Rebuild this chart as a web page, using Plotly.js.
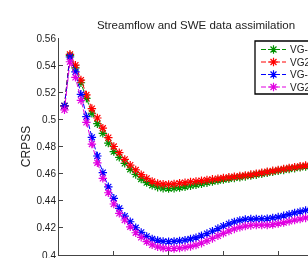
<!DOCTYPE html>
<html>
<head>
<meta charset="utf-8">
<script src="https://cdn.plot.ly/plotly-3.0.1.min.js"></script>
<style>
  html, body { margin: 0; padding: 0; background: #fff; overflow: hidden; }
  #chart { width: 380px; height: 300px; filter: blur(0.35px); }
</style>
</head>
<body>
<div id="chart"></div>
<script>
// Lead times (days) and CRPSS for the four model variants
const leadTime = Array.from({length: 48}, (_, i) => i + 1);

const seriesNames = ['VG-EnKF', 'VG2-EnKF', 'VG-PF', 'VG2-PF'];
const seriesColors = ['rgb(0,145,0)', 'rgb(255,0,0)', 'rgb(0,0,255)', 'rgb(225,0,225)'];

const vgEnkf = [0.510, 0.547, 0.538, 0.527, 0.5155, 0.5045, 0.4968, 0.4897, 0.4825, 0.4762,
  0.4720, 0.4676, 0.4632, 0.4594, 0.4560, 0.4534, 0.4514, 0.4500, 0.4492, 0.4490,
  0.4492, 0.4497, 0.4503, 0.4510, 0.4518, 0.4525, 0.4533, 0.4541, 0.4549, 0.4556,
  0.4562, 0.4568, 0.4573, 0.4579, 0.4585, 0.4592, 0.4599, 0.4606, 0.4613, 0.4620,
  0.4627, 0.4634, 0.4640, 0.4646, 0.4652, 0.4657, 0.4662, 0.4666];

const vg2Enkf = [0.510, 0.548, 0.540, 0.529, 0.518, 0.508, 0.501, 0.4935, 0.4865, 0.480,
  0.4755, 0.4705, 0.4663, 0.4627, 0.4592, 0.4565, 0.4542, 0.4528, 0.4522, 0.4521,
  0.4524, 0.4529, 0.4534, 0.4539, 0.4543, 0.4548, 0.4553, 0.4558, 0.4563, 0.4568,
  0.4573, 0.4578, 0.4582, 0.4587, 0.4593, 0.4600, 0.4607, 0.4614, 0.4621, 0.4628,
  0.4635, 0.4642, 0.4648, 0.4654, 0.4660, 0.4665, 0.4670, 0.4674];

const vgPf = [0.510, 0.546, 0.535, 0.5185, 0.502, 0.4868, 0.473, 0.4607, 0.4503, 0.4418,
  0.4344, 0.4287, 0.4245, 0.4201, 0.4167, 0.4137, 0.4118, 0.4107, 0.4100, 0.4098,
  0.4100, 0.4104, 0.4110, 0.4118, 0.4128, 0.4142, 0.4158, 0.4176, 0.4195, 0.4213,
  0.4230, 0.4244, 0.4255, 0.4262, 0.4265, 0.4266, 0.4266, 0.4268, 0.4273, 0.4280,
  0.4289, 0.4299, 0.4310, 0.4320, 0.4329, 0.4337, 0.4344, 0.4350];

const vg2Pf = [0.507, 0.5425, 0.531, 0.514, 0.4978, 0.4818, 0.468, 0.4565, 0.4459, 0.4376,
  0.4307, 0.4258, 0.4208, 0.4164, 0.4130, 0.4098, 0.4075, 0.4060, 0.4051, 0.4047,
  0.4048, 0.4051, 0.4056, 0.4063, 0.4073, 0.4087, 0.4104, 0.4122, 0.4141, 0.4160,
  0.4177, 0.4192, 0.4204, 0.4213, 0.4218, 0.4220, 0.4220, 0.4221, 0.4225, 0.4231,
  0.4239, 0.4248, 0.4257, 0.4265, 0.4273, 0.4280, 0.4286, 0.4291];

const yTickVals = [0.4, 0.42, 0.44, 0.46, 0.48, 0.5, 0.52, 0.54, 0.56];
const yTickText = ['0.4', '0.42', '0.44', '0.46', '0.48', '0.5', '0.52', '0.54', '0.56'];
const xTickVals = [0, 10, 20, 30, 40, 50];

const allSeries = [vgEnkf, vg2Enkf, vgPf, vg2Pf];

// Figure geometry (pixels)
const W = 380, H = 300;
const M = {l: 59, r: 47, t: 38, b: 45};
const lineDash = '5px,2px';

const traces = allSeries.map((ys, i) => ({
  x: leadTime,
  y: ys,
  name: seriesNames[i],
  type: 'scatter',
  mode: 'lines+markers',
  showlegend: false,
  line: {color: seriesColors[i], width: 1, dash: lineDash},
  marker: {symbol: 'asterisk-open', size: 7, color: seriesColors[i],
           line: {color: seriesColors[i], width: 1.2}}
}));

// Hand-built legend on a pixel-scaled overlay axis (Matlab-style compact rows)
const legLeft = 255, legTop = 41, legBottom = 94, legRight = 350;
const rowY = [49.5, 62, 74.5, 87];
const sampleX0 = 261, sampleX1 = 286, sampleMid = 273.5, textX = 288;

const shapes = [{
  type: 'rect', xref: 'x2', yref: 'y2', layer: 'below',
  x0: legLeft, x1: legRight, y0: legTop, y1: legBottom,
  line: {color: '#000', width: 1.3}, fillcolor: '#fff'
}];
const annotations = [];
seriesNames.forEach((name, i) => {
  shapes.push({
    type: 'line', xref: 'x2', yref: 'y2', layer: 'below',
    x0: sampleX0, x1: sampleX1, y0: rowY[i], y1: rowY[i],
    line: {color: seriesColors[i], width: 1, dash: lineDash}
  });
  annotations.push({
    xref: 'x2', yref: 'y2', x: textX, y: rowY[i],
    xanchor: 'left', yanchor: 'middle', showarrow: false,
    text: name, font: {size: 10, color: '#222'}
  });
  traces.push({
    x: [sampleMid], y: [rowY[i]], xaxis: 'x2', yaxis: 'y2',
    type: 'scatter', mode: 'markers', showlegend: false, hoverinfo: 'skip',
    marker: {symbol: 'asterisk-open', size: 7, color: seriesColors[i],
             line: {color: seriesColors[i], width: 1.2}}
  });
});

const layout = {
  width: W,
  height: H,
  margin: {l: M.l, r: M.r, t: M.t, b: M.b, pad: 0},
  paper_bgcolor: '#fff',
  plot_bgcolor: '#fff',
  font: {family: 'Liberation Sans, Arial, sans-serif', size: 10, color: '#222'},
  title: {
    text: 'Streamflow and SWE data assimilation',
    font: {size: 11.5, color: '#222'},
    x: 0.5, xref: 'paper', xanchor: 'center',
    y: 1 - 25 / H, yref: 'container', yanchor: 'middle'
  },
  xaxis: {
    range: [0, 50],
    tickvals: xTickVals,
    showticklabels: false,
    ticks: 'inside', ticklen: 4, tickcolor: '#444',
    showline: true, linecolor: '#444', linewidth: 1,
    showgrid: false, zeroline: false
  },
  yaxis: {
    range: [0.4, 0.56],
    tickvals: yTickVals,
    ticktext: yTickText,
    ticks: 'inside', ticklen: 4, tickcolor: '#444',
    showline: true, linecolor: '#444', linewidth: 1,
    showgrid: false, zeroline: false,
    tickfont: {size: 10, color: '#222'},
    title: {text: 'CRPSS', font: {size: 12, color: '#222'}, standoff: 3}
  },
  xaxis2: {overlaying: 'x', range: [M.l, W - M.r], visible: false, fixedrange: true},
  yaxis2: {overlaying: 'y', range: [H - M.b, M.t], visible: false, fixedrange: true},
  shapes: shapes,
  annotations: annotations,
  showlegend: false
};

Plotly.newPlot('chart', traces, layout, {displayModeBar: false, staticPlot: true});
</script>
</body>
</html>
